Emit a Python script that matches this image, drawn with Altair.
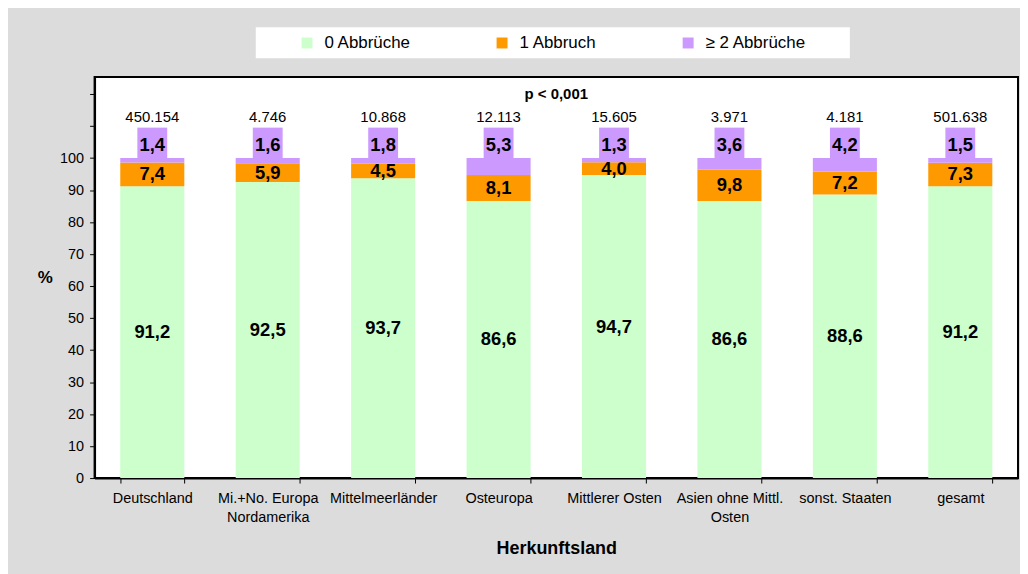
import altair as alt
import pandas as pd

categories = ["Deutschland", "Mi.+No. Europa\nNordamerika", "Mittelmeerländer", "Osteuropa",
              "Mittlerer Osten", "Asien ohne Mittl.\nOsten", "sonst. Staaten", "gesamt"]
n_total = [450154, 4746, 10868, 12113, 15605, 3971, 4181, 501638]
pct_0 = [91.2, 92.5, 93.7, 86.6, 94.7, 86.6, 88.6, 91.2]
pct_1 = [7.4, 5.9, 4.5, 8.1, 4.0, 9.8, 7.2, 7.3]
pct_2 = [1.4, 1.6, 1.8, 5.3, 1.3, 3.6, 4.2, 1.5]
series = ["0 Abbrüche", "1 Abbruch", "≥ 2 Abbrüche"]
colors = ["#ccffcc", "#ff9900", "#cc99ff"]
p_text = "p < 0,001"
y_ticks = list(range(0, 130, 10))

PLOT_W, PLOT_H = 928, 403
FONT = "Liberation Sans"
Y_MAX = 125.3
LABEL_Y = 104          # value level of the ≥2 labels
BOX_TOP = 109.5        # top of the ≥2 label background
N_Y = 112.7            # level of N labels
P_Y = 120              # level of p text


def de(v):
    return f"{v:.1f}".replace(".", ",")


long_rows = []
for i, c in enumerate(categories):
    for k, (s, vals) in enumerate(zip(series, [pct_0, pct_1, pct_2])):
        long_rows.append({"cat": c, "series": s, "value": vals[i], "k": k})
long = pd.DataFrame(long_rows)

wide = pd.DataFrame({"cat": categories, "g": pct_0, "o": pct_1, "p": pct_2, "n": n_total})
wide["g_mid"] = wide["g"] / 2
wide["o_mid"] = wide["g"] + wide["o"] / 2
wide["top"] = wide["g"] + wide["o"] + wide["p"]
wide["box_hi"] = BOX_TOP
wide["p_y"] = LABEL_Y
wide["n_y"] = N_Y
wide["g_lab"] = wide["g"].map(de)
wide["o_lab"] = wide["o"].map(de)
wide["p_lab"] = wide["p"].map(de)
wide["n_lab"] = wide["n"].map(lambda v: f"{v:,}".replace(",", "."))

x_axis = alt.Axis(
    title="Herkunftsland", labelAngle=0, labelExpr="split(datum.label, '\\n')",
    tickBand="extent", domainColor="black", domainWidth=2, tickColor="black",
    tickSize=5, labelFontSize=14.5, labelPadding=9, labelLineHeight=18.5,
    labelColor="black", labelBaseline="top", titleFontSize=18, titleFontWeight="bold",
    titleColor="black", titleY=71, titleBaseline="middle", labelOverlap=False,
)
y_scale = alt.Scale(domain=[0, Y_MAX], nice=False, zero=True)
y_axis = alt.Axis(
    values=y_ticks, labelExpr="datum.value <= 100 ? datum.label : ''", grid=False,
    domainColor="black", domainWidth=2, tickColor="black", tickSize=5,
    labelFontSize=14.5, labelColor="black", labelPadding=6, labelOverlap=False,
    labelSeparation=0, labelBound=False,
    title="%", titleAngle=0, titleFontSize=17, titleFontWeight="bold", titleColor="black",
    titleX=-50, titleY=PLOT_H / 2, titleAlign="center", titleBaseline="middle",
)
x_scale = alt.Scale(paddingInner=0.445, paddingOuter=0.2225)
xs = alt.X("cat:N", sort=categories, scale=x_scale, axis=x_axis)


def yq(field, **kw):
    return alt.Y(field, type="quantitative", scale=y_scale, axis=y_axis, title="%", **kw)


BLANK = "\u2800" * 3
bars = alt.Chart(long).mark_bar().encode(
    x=xs,
    y=yq("value", stack="zero"),
    color=alt.Color(
        "series:N", scale=alt.Scale(domain=series, range=colors),
        legend=alt.Legend(
            orient="none", legendX=162, legendY=-50, direction="horizontal",
            title="WW", titleColor="white", titleOrient="left", titleFontSize=17,
            titleFontWeight="normal", titlePadding=3,
            padding=7, fillColor="white", symbolType="square", symbolSize=121,
            symbolStrokeWidth=0, labelFontSize=17, labelColor="black", labelOffset=9,
            columnPadding=83, labelLimit=300,
            labelExpr="datum.label == '≥ 2 Abbrüche' ? datum.label + '" + BLANK + "' : datum.label",
        ),
    ),
    order=alt.Order("k:Q"),
)

base = alt.Chart(wide)
txt_kw = dict(fontSize=18.5, fontWeight="bold", color="black", baseline="middle", align="center")

g_text = base.mark_text(**txt_kw).encode(x=xs, y=yq("g_mid"), text="g_lab:N")
o_text = base.mark_text(**txt_kw).encode(x=xs, y=yq("o_mid"), text="o_lab:N")
p_box = base.mark_bar(width=30, color=colors[2]).encode(x=xs, y=yq("top"), y2="box_hi:Q")
p_text_l = base.mark_text(**txt_kw).encode(x=xs, y=yq("p_y"), text="p_lab:N")
n_text = base.mark_text(fontSize=15, color="black", baseline="middle", align="center").encode(
    x=xs, y=yq("n_y"), text="n_lab:N")
p_val = alt.Chart(pd.DataFrame({"t": [p_text], "yv": [P_Y]})).mark_text(
    fontSize=15, fontWeight="bold", color="black", baseline="middle", align="center"
).encode(x=alt.value(PLOT_W / 2), y=yq("yv"), text="t:N")

chart = alt.layer(bars, g_text, o_text, p_box, p_text_l, n_text, p_val).properties(
    width=PLOT_W, height=PLOT_H,
    padding={"left": 87, "top": 68, "right": 2, "bottom": 95},
    autosize=alt.AutoSizeParams(type="none"),
    background="#dcdcdc",
).configure(font=FONT).configure_view(
    fill="white", stroke="black", strokeWidth=2
)

chart.save("out.html", embed_options={"renderer": "svg", "actions": False})
